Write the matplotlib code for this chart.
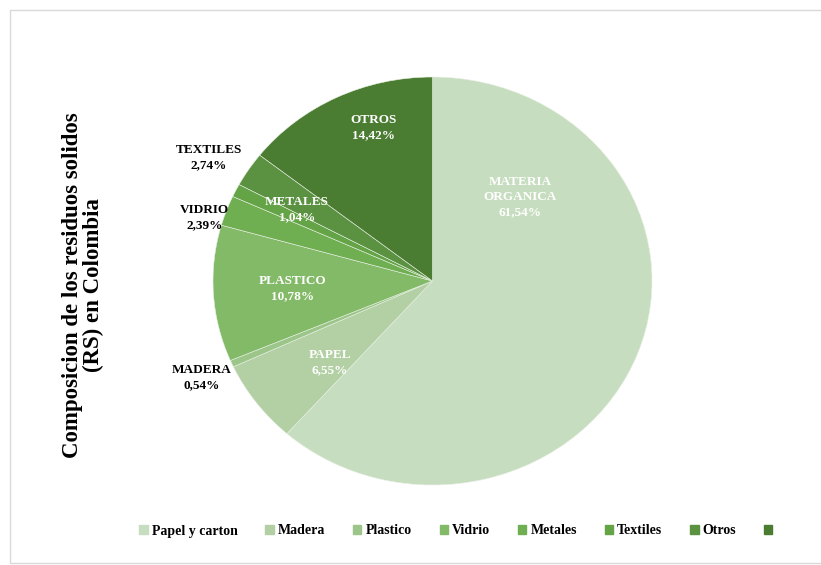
import matplotlib
matplotlib.use("Agg")
import matplotlib.pyplot as plt
import matplotlib.patches as mpatches
import numpy as np

# residuos solidos en Colombia (%)
categorias = ["MATERIA\nORGANICA", "PAPEL", "MADERA", "PLASTICO",
              "VIDRIO", "METALES", "TEXTILES", "OTROS"]
porcentajes = [61.54, 6.55, 0.54, 10.78, 2.39, 1.04, 2.74, 14.42]
leyenda = ["Papel y carton", "Madera", "Plastico", "Vidrio",
           "Metales", "Textiles", "Otros", ""]

colores = ["#c7ddbf", "#b2d0a4", "#9cc689", "#82ba67",
           "#70ae52", "#64a446", "#5a9241", "#4a7c31"]
# label colour and position (x, y in pie units) for each slice
color_txt = ["white", "white", "black", "white", "black", "white", "black", "white"]
pos_txt = [(0.40, 0.41), (-0.467, -0.40), (-1.05, -0.475), (-0.636, -0.035),
           (-1.04, 0.31), (-0.617, 0.35), (-1.02, 0.605), (-0.27, 0.75)]

serif = ["Liberation Serif", "DejaVu Serif"]

fig = plt.figure(figsize=(8.21, 5.65), dpi=100)
fig.patches.append(mpatches.Rectangle((10 / 821, 2 / 565), 1.0, 553 / 565,
                                      transform=fig.transFigure, fill=False,
                                      edgecolor="#d9d9d9", lw=1.0))

ax = fig.add_axes([213 / 821, 80 / 565, 439 / 821, 408 / 565])
wedges, _ = ax.pie(porcentajes, colors=colores, startangle=90, counterclock=False,
                   radius=1.0, wedgeprops=dict(edgecolor="#e8f0e4", linewidth=0.4))
ax.set_aspect("auto")
ax.set_xlim(-1, 1)
ax.set_ylim(-1, 1)

for cat, val, col, (tx, ty) in zip(categorias, porcentajes, color_txt, pos_txt):
    txt = "%s\n%s%%" % (cat, ("%.2f" % val).replace(".", ","))
    ax.text(tx, ty, txt, ha="center", va="center", color=col, fontsize=9.5,
            fontweight="bold", family=serif, linespacing=1.35)

fig.text(83 / 821, 1 - 285 / 565,
         "Composicion de los residuos solidos\n(RS) en Colombia",
         rotation=90, ha="center", va="center", fontsize=16.5,
         fontweight="bold", family=serif, linespacing=1.0)

handles = [mpatches.Patch(color=c) for c in colores]
fig.legend(handles, leyenda, loc="center", bbox_to_anchor=(458 / 821, 1 - 531 / 565),
           ncol=8, frameon=False, handlelength=0.6, handleheight=0.6,
           handletextpad=0.3, columnspacing=2.0,
           prop=dict(family=serif, weight="bold", size=10))

fig.savefig("out.png", dpi=100)
